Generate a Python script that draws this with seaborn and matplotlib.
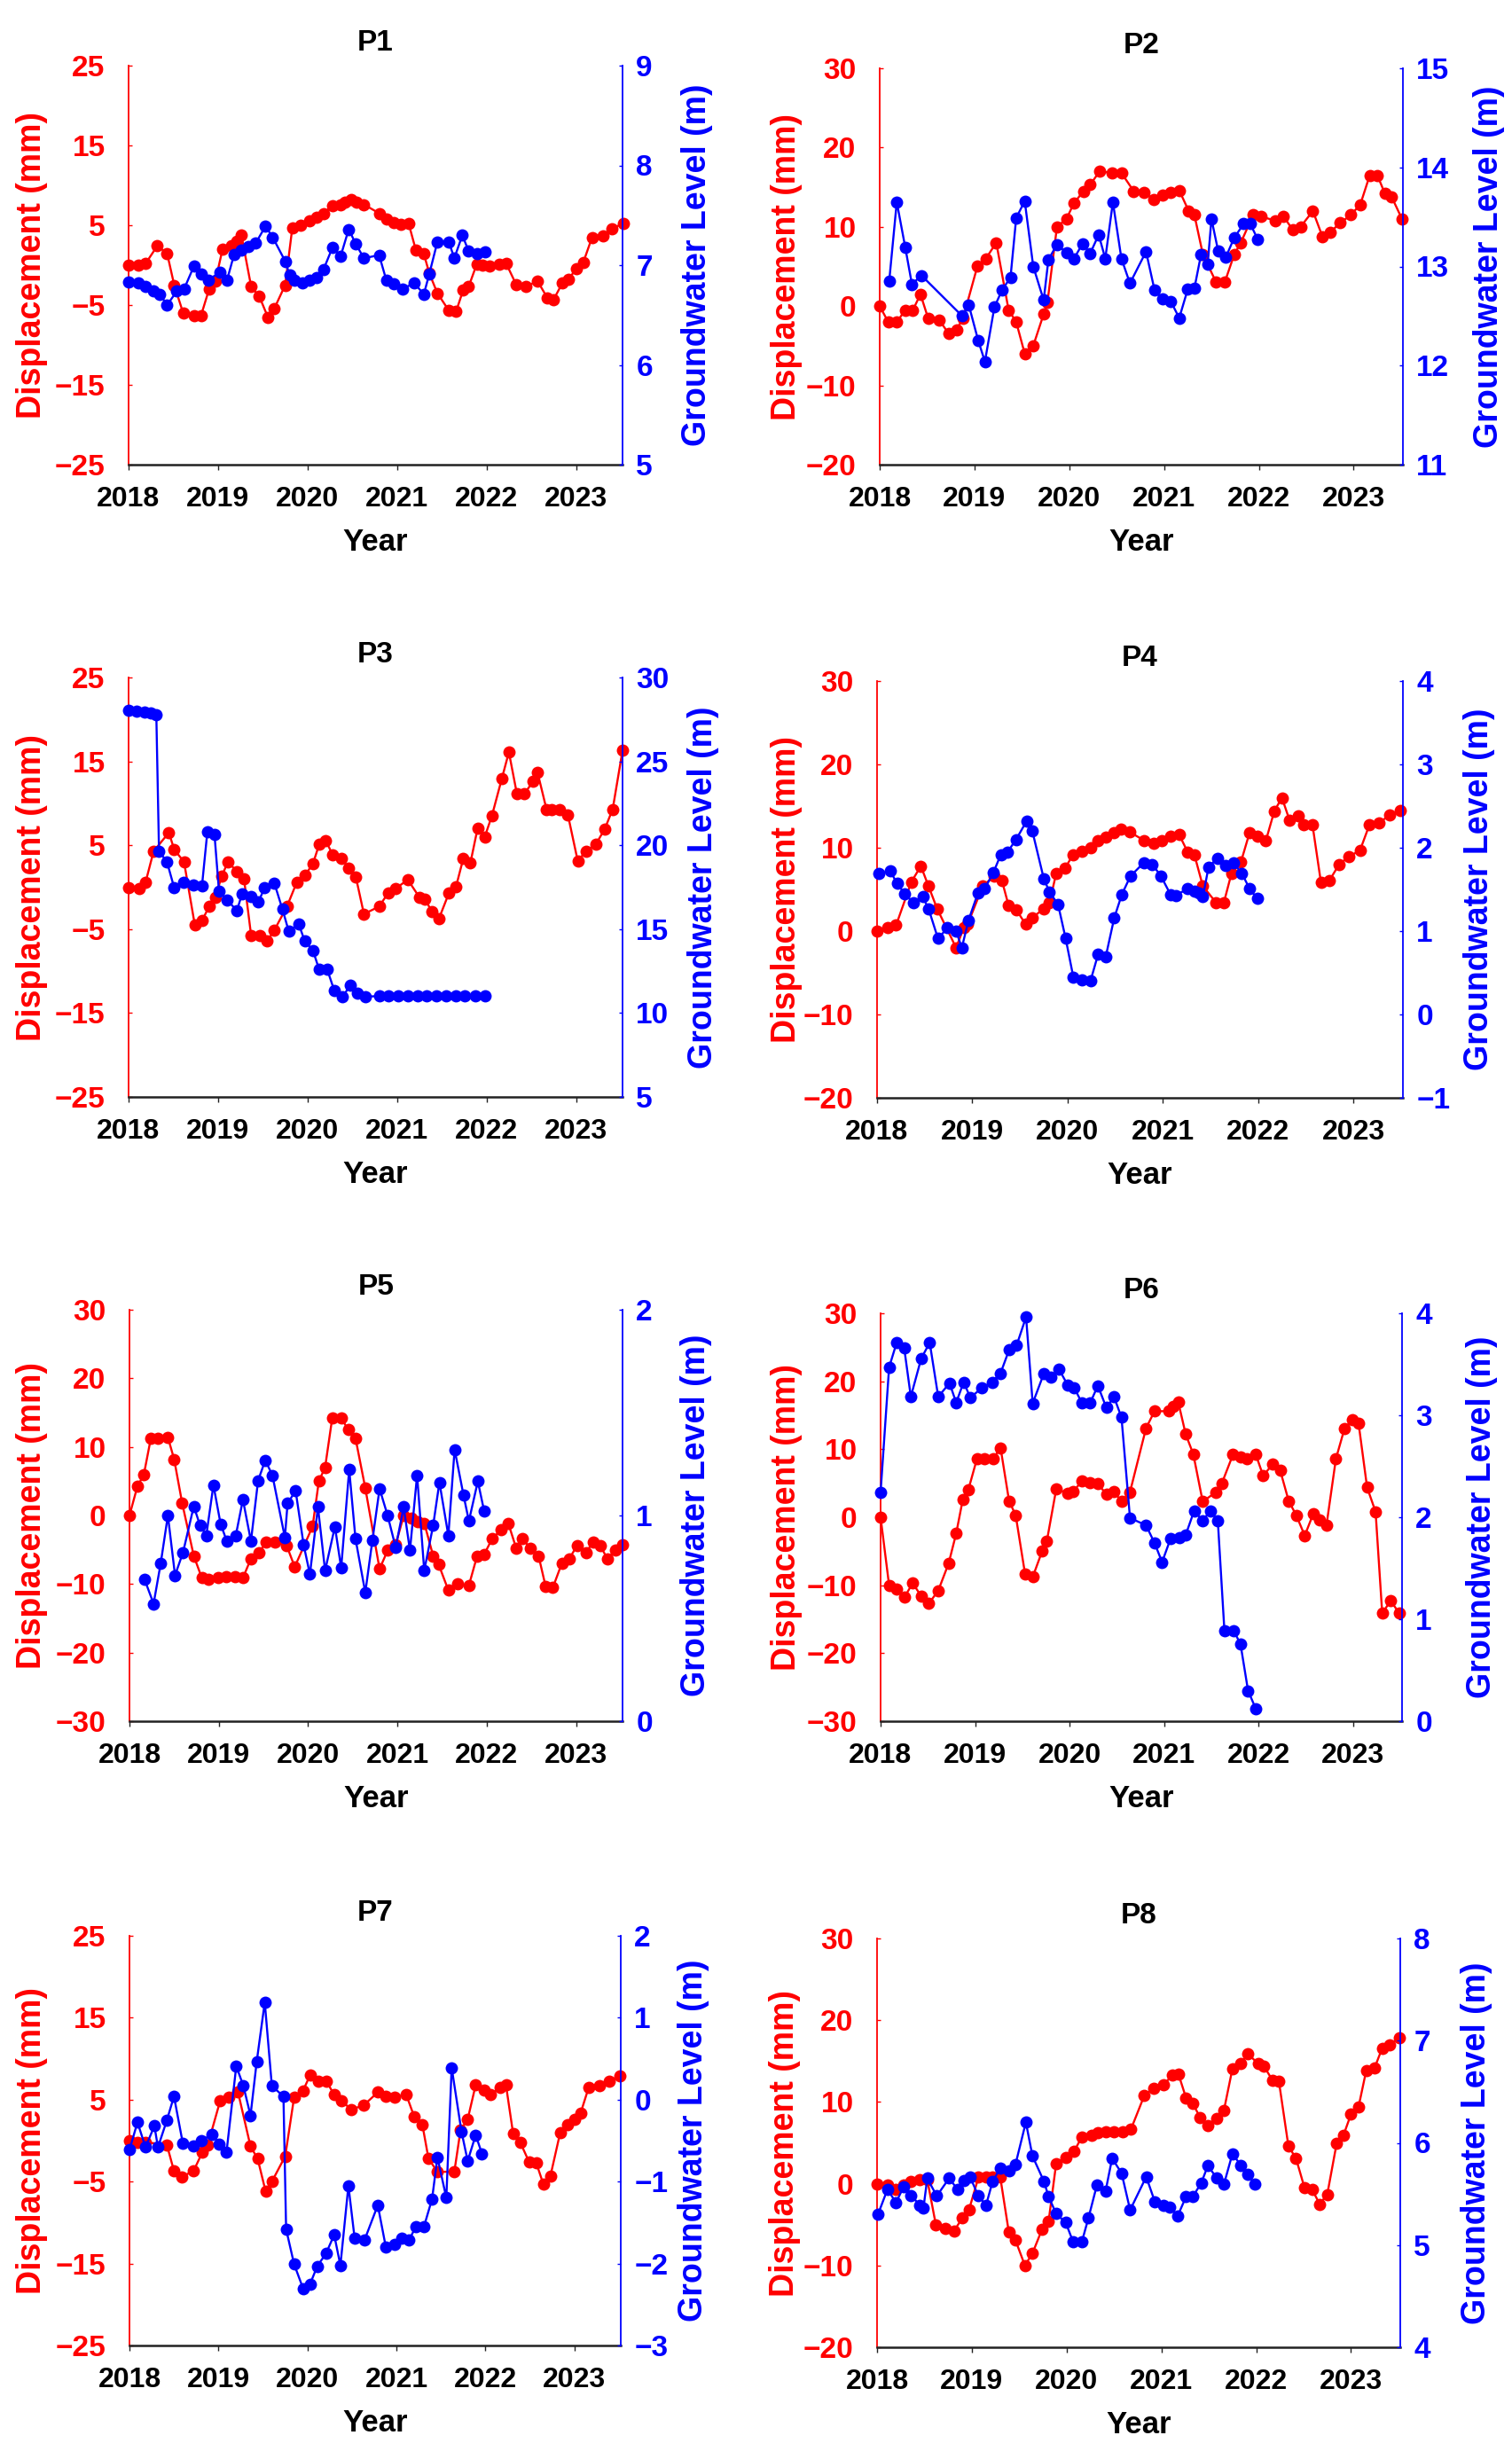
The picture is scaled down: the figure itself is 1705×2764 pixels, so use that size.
import numpy as np
import pandas as pd
import matplotlib
matplotlib.use("Agg")
import matplotlib.pyplot as plt
import seaborn as sns

sns.set_theme(style="white")
plt.rcParams['font.family'] = ['Liberation Sans', 'DejaVu Sans']
plt.rcParams['font.weight'] = 'bold'
plt.rcParams['axes.unicode_minus'] = True

RED = "#ff0000"
BLUE = "#0000ff"

titles = ["P1", "P2", "P3", "P4", "P5", "P6", "P7", "P8"]
year_ticks = [2018, 2019, 2020, 2021, 2022, 2023]
START_YEAR = 2018

# ---------------- P1 ----------------
p1_disp_dt = [0.00, 0.11, 0.19, 0.32, 0.43, 0.51, 0.61, 0.73, 0.81, 0.90,
              0.97, 1.05, 1.15, 1.21, 1.26, 1.37, 1.46, 1.56, 1.63, 1.75,
              1.83, 1.92, 2.02, 2.10, 2.18, 2.28, 2.37, 2.42, 2.49, 2.55,
              2.63, 2.80, 2.88, 2.96, 3.04, 3.13, 3.21, 3.30, 3.36, 3.45,
              3.58, 3.66, 3.74, 3.80, 3.89, 3.95, 4.03, 4.14, 4.22, 4.33,
              4.44, 4.57, 4.68, 4.75, 4.85, 4.92, 5.00, 5.08, 5.18, 5.30,
              5.40, 5.53]
p1_disp_mm = [0, 0, 0.2, 2.4, 1.5, -2.5, -6, -6.3, -6.3, -3,
              -2, 2, 2.4, 3, 3.8, -2.7, -3.9, -6.6, -5.4, -2.5,
              4.7, 5, 5.6, 6, 6.5, 7.5, 7.6, 7.9, 8.2, 7.9,
              7.6, 6.5, 5.8, 5.3, 5.1, 5.2, 1.9, 1.4, -1, -3.5,
              -5.7, -5.8, -3.1, -2.7, 0.1, 0, -0.1, 0.1, 0.2, -2.4,
              -2.7, -2, -4.1, -4.3, -2.2, -1.8, -0.4, 0.3, 3.5, 3.7,
              4.6, 5.2]
p1_gw_dt = [0.00, 0.11, 0.19, 0.28, 0.35, 0.43, 0.54, 0.62, 0.73, 0.81,
            0.89, 1.02, 1.10, 1.18, 1.26, 1.34, 1.42, 1.53, 1.61, 1.75,
            1.80, 1.85, 1.94, 2.02, 2.10, 2.18, 2.28, 2.37, 2.46, 2.54,
            2.63, 2.80, 2.88, 2.96, 3.06, 3.19, 3.30, 3.36, 3.45, 3.58,
            3.64, 3.73, 3.80, 3.89, 3.98]
p1_gw_m = [6.83, 6.82, 6.79, 6.74, 6.71, 6.60, 6.74, 6.76, 6.99, 6.91,
           6.85, 6.93, 6.85, 7.11, 7.15, 7.19, 7.22, 7.39, 7.28, 7.04,
           6.90, 6.85, 6.82, 6.85, 6.88, 6.96, 7.18, 7.09, 7.36, 7.21,
           7.07, 7.10, 6.85, 6.81, 6.76, 6.82, 6.71, 6.91, 7.23, 7.23,
           7.07, 7.30, 7.14, 7.12, 7.13]

# ---------------- P2 ----------------
p2_disp_dt = [0.00, 0.09, 0.18, 0.27, 0.35, 0.43, 0.51, 0.63, 0.73, 0.81,
              0.88, 1.03, 1.12, 1.23, 1.36, 1.44, 1.53, 1.62, 1.73, 1.77,
              1.87, 1.97, 2.05, 2.15, 2.22, 2.32, 2.45, 2.55, 2.68, 2.79,
              2.89, 2.98, 3.07, 3.16, 3.26, 3.32, 3.41, 3.55, 3.64, 3.74,
              3.81, 3.94, 4.02, 4.17, 4.26, 4.36, 4.44, 4.57, 4.67, 4.75,
              4.86, 4.97, 5.07, 5.17, 5.25, 5.33, 5.40, 5.51]
p2_disp_mm = [0, -2, -2, -0.5, -0.5, 1.5, -1.5, -1.8, -3.5, -3,
              -1.5, 5, 6, 8, -0.5, -2, -6, -5, -1, 0.5,
              10, 11, 13, 14.5, 15.3, 17, 16.8, 16.8, 14.5, 14.3,
              13.5, 14, 14.3, 14.6, 12, 11.5, 6.5, 3, 3, 6.5,
              8, 11.5, 11.3, 10.8, 11.3, 9.6, 10, 12, 8.8, 9.3,
              10.5, 11.5, 12.8, 16.5, 16.5, 14.2, 13.8, 11]
p2_gw_dt = [0.10, 0.18, 0.27, 0.34, 0.44, 0.87, 0.94, 1.04, 1.11, 1.21,
            1.29, 1.38, 1.44, 1.53, 1.62, 1.73, 1.78, 1.87, 1.97, 2.05,
            2.14, 2.22, 2.31, 2.38, 2.46, 2.55, 2.64, 2.81, 2.90, 2.98,
            3.07, 3.16, 3.25, 3.32, 3.39, 3.46, 3.50, 3.57, 3.65, 3.74,
            3.84, 3.91, 3.99]
p2_gw_m = [12.85, 13.65, 13.19, 12.82, 12.91, 12.50, 12.61, 12.25, 12.04, 12.59,
           12.76, 12.89, 13.49, 13.66, 13.00, 12.66, 13.07, 13.22, 13.14, 13.08,
           13.23, 13.13, 13.32, 13.08, 13.65, 13.08, 12.83, 13.15, 12.76, 12.67,
           12.65, 12.48, 12.77, 12.78, 13.12, 13.02, 13.48, 13.16, 13.09, 13.29,
           13.43, 13.43, 13.27]

# ---------------- P3 ----------------
p3_disp_dt = [0.00, 0.12, 0.19, 0.28, 0.45, 0.51, 0.62, 0.74, 0.82, 0.90,
              0.97, 1.04, 1.11, 1.21, 1.29, 1.37, 1.47, 1.55, 1.63, 1.77,
              1.88, 1.97, 2.06, 2.13, 2.20, 2.28, 2.38, 2.46, 2.54, 2.63,
              2.80, 2.90, 2.98, 3.12, 3.25, 3.31, 3.39, 3.47, 3.58, 3.66,
              3.74, 3.82, 3.90, 3.98, 4.06, 4.17, 4.25, 4.34, 4.42, 4.52,
              4.57, 4.67, 4.73, 4.82, 4.91, 5.02, 5.11, 5.22, 5.32, 5.41,
              5.52]
p3_disp_mm = [0, -0.2, 0.6, 4.3, 6.5, 4.5, 3.0, -4.5, -4.0, -2.3,
              -1.2, 1.3, 3.0, 1.9, 1.0, -5.8, -5.8, -6.4, -5.1, -2.3,
              0.6, 1.4, 2.8, 5.1, 5.6, 3.9, 3.4, 2.3, 1.2, -3.2,
              -2.3, -0.7, -0.2, 0.9, -1.2, -1.4, -2.9, -3.7, -0.7, 0.1,
              3.4, 2.9, 7.0, 6.0, 8.5, 12.9, 16.1, 11.1, 11.1, 12.6,
              13.7, 9.3, 9.3, 9.2, 8.6, 3.1, 4.3, 5.1, 6.9, 9.3,
              16.3]
p3_gw_dt = [0.00, 0.09, 0.18, 0.25, 0.31, 0.34, 0.43, 0.51, 0.61, 0.72,
            0.82, 0.88, 0.96, 1.01, 1.10, 1.21, 1.27, 1.37, 1.45, 1.52,
            1.63, 1.72, 1.79, 1.90, 1.97, 2.06, 2.13, 2.22, 2.30, 2.39,
            2.48, 2.56, 2.65, 2.80, 2.90, 3.01, 3.12, 3.23, 3.33, 3.44,
            3.55, 3.66, 3.76, 3.87, 3.98]
p3_gw_m = [28.03, 27.98, 27.94, 27.87, 27.76, 19.65, 18.99, 17.46, 17.79, 17.63,
           17.57, 20.79, 20.64, 17.28, 16.75, 16.10, 17.13, 16.97, 16.62, 17.46,
           17.72, 16.18, 14.87, 15.31, 14.28, 13.73, 12.59, 12.59, 11.32, 10.99,
           11.64, 11.21, 10.99, 11.0, 11.0, 11.0, 11.0, 11.0, 11.0, 11.0,
           11.0, 11.0, 11.0, 11.0, 11.0]

# ---------------- P4 ----------------
p4_disp_dt = [0.00, 0.11, 0.20, 0.36, 0.46, 0.54, 0.63, 0.83, 0.91, 0.95,
              1.11, 1.23, 1.31, 1.38, 1.46, 1.56, 1.63, 1.75, 1.81, 1.88,
              1.97, 2.06, 2.15, 2.24, 2.32, 2.40, 2.49, 2.56, 2.65, 2.80,
              2.90, 2.99, 3.08, 3.17, 3.26, 3.33, 3.42, 3.56, 3.64, 3.72,
              3.82, 3.91, 3.99, 4.08, 4.17, 4.25, 4.33, 4.42, 4.48, 4.57,
              4.66, 4.75, 4.85, 4.95, 5.07, 5.17, 5.27, 5.38, 5.49]
p4_disp_mm = [0, 0.4, 0.7, 5.9, 7.8, 5.4, 2.7, -2.0, 0.4, 0.8,
              5.4, 6.6, 6.1, 3.1, 2.6, 0.8, 1.6, 2.7, 3.4, 6.9,
              7.5, 9.2, 9.6, 10.0, 10.8, 11.3, 11.8, 12.2, 11.9, 10.9,
              10.5, 10.8, 11.4, 11.6, 9.5, 9.2, 5.4, 3.4, 3.4, 6.9,
              8.3, 11.8, 11.4, 10.8, 14.4, 16.0, 13.3, 13.8, 12.8, 12.8,
              5.8, 6.1, 8.0, 8.9, 9.7, 12.8, 13.0, 13.9, 14.5]
p4_gw_dt = [0.02, 0.14, 0.21, 0.29, 0.38, 0.48, 0.54, 0.64, 0.74, 0.83,
            0.89, 0.96, 1.06, 1.13, 1.22, 1.30, 1.37, 1.46, 1.57, 1.63,
            1.75, 1.81, 1.90, 1.98, 2.06, 2.15, 2.24, 2.32, 2.40, 2.49,
            2.57, 2.66, 2.80, 2.89, 2.98, 3.08, 3.14, 3.26, 3.33, 3.38,
            3.42, 3.48, 3.57, 3.66, 3.74, 3.83, 3.91, 3.99]
p4_gw_m = [1.69, 1.72, 1.57, 1.45, 1.34, 1.41, 1.27, 0.91, 1.04, 1.00,
           0.80, 1.13, 1.46, 1.51, 1.70, 1.92, 1.95, 2.10, 2.32, 2.20,
           1.63, 1.47, 1.32, 0.91, 0.45, 0.42, 0.40, 0.72, 0.69, 1.16,
           1.44, 1.66, 1.82, 1.80, 1.66, 1.44, 1.43, 1.51, 1.48, 1.46,
           1.41, 1.77, 1.87, 1.79, 1.82, 1.69, 1.51, 1.39]

# ---------------- P5 ----------------
p5_disp_dt = [0.00, 0.09, 0.16, 0.24, 0.32, 0.43, 0.50, 0.59, 0.72, 0.81,
              0.88, 0.99, 1.08, 1.18, 1.27, 1.36, 1.45, 1.53, 1.63, 1.76,
              1.85, 2.05, 2.12, 2.19, 2.27, 2.37, 2.45, 2.53, 2.64, 2.80,
              2.89, 2.98, 3.07, 3.16, 3.23, 3.30, 3.40, 3.46, 3.57, 3.67,
              3.80, 3.89, 3.97, 4.06, 4.16, 4.24, 4.33, 4.40, 4.49, 4.58,
              4.66, 4.74, 4.84, 4.92, 5.01, 5.11, 5.19, 5.27, 5.35, 5.44,
              5.52]
p5_disp_mm = [0, 4.3, 5.9, 11.3, 11.3, 11.4, 8.2, 1.8, -5.9, -9.1,
              -9.3, -9.1, -8.9, -8.9, -9.1, -6.3, -5.4, -3.9, -3.9, -4.4,
              -7.5, -1.6, 5.0, 7.0, 14.2, 14.2, 12.5, 11.3, 4.0, -7.8,
              -5.1, -4.3, 0, -0.4, -0.9, -1.1, -5.9, -7.1, -10.9, -10.0,
              -10.2, -6.0, -5.7, -3.4, -2.1, -1.1, -4.8, -3.4, -4.8, -5.9,
              -10.4, -10.5, -7.0, -6.4, -4.4, -5.4, -3.9, -4.4, -6.3, -5.1,
              -4.3]
p5_gw_dt = [0.17, 0.27, 0.35, 0.43, 0.51, 0.60, 0.72, 0.79, 0.86, 0.94,
            1.02, 1.09, 1.19, 1.27, 1.36, 1.44, 1.52, 1.60, 1.74, 1.77,
            1.86, 1.95, 2.02, 2.11, 2.19, 2.30, 2.37, 2.46, 2.53, 2.64,
            2.72, 2.80, 2.89, 2.98, 3.07, 3.14, 3.22, 3.30, 3.40, 3.47,
            3.57, 3.64, 3.74, 3.80, 3.90, 3.97]
p5_gw_m = [0.688, 0.571, 0.768, 1.000, 0.709, 0.821, 1.045, 0.952, 0.902, 1.148,
           0.959, 0.875, 0.902, 1.077, 0.875, 1.170, 1.268, 1.196, 0.893, 1.059,
           1.120, 0.857, 0.714, 1.041, 0.732, 0.946, 0.745, 1.223, 0.888, 0.625,
           0.880, 1.130, 1.000, 0.845, 1.041, 0.830, 1.196, 0.732, 0.952, 1.161,
           0.902, 1.321, 1.098, 0.973, 1.166, 1.023]

# ---------------- P6 ----------------
p6_disp_dt = [0.00, 0.09, 0.17, 0.25, 0.34, 0.43, 0.51, 0.61, 0.72, 0.80,
              0.87, 0.93, 1.02, 1.10, 1.19, 1.27, 1.36, 1.43, 1.53, 1.61,
              1.71, 1.76, 1.86, 1.98, 2.04, 2.13, 2.22, 2.30, 2.39, 2.47,
              2.55, 2.64, 2.81, 2.90, 3.05, 3.10, 3.15, 3.23, 3.31, 3.41,
              3.55, 3.61, 3.73, 3.81, 3.88, 3.97, 4.05, 4.15, 4.23, 4.32,
              4.40, 4.49, 4.58, 4.65, 4.72, 4.82, 4.91, 4.99, 5.06, 5.15,
              5.24, 5.31, 5.40, 5.49]
p6_disp_mm = [0, -10.0, -10.5, -11.8, -9.7, -11.6, -12.7, -10.8, -6.8, -2.4,
              2.6, 4.1, 8.6, 8.6, 8.6, 10.2, 2.4, 0.3, -8.4, -8.8,
              -5.0, -3.5, 4.2, 3.5, 3.8, 5.3, 5.1, 4.9, 3.4, 3.8,
              2.3, 3.7, 13.1, 15.6, 15.6, 16.3, 17.0, 12.2, 9.3, 2.3,
              3.7, 4.9, 9.2, 8.9, 8.6, 9.3, 6.1, 7.8, 6.9, 2.4,
              0.3, -2.7, 0.5, -0.4, -1.2, 8.6, 13.0, 14.3, 13.8, 4.4,
              0.8, -14.1, -12.3, -14.1]
p6_gw_dt = [0.00, 0.09, 0.17, 0.25, 0.32, 0.43, 0.52, 0.61, 0.73, 0.80,
            0.88, 0.95, 1.07, 1.18, 1.27, 1.36, 1.44, 1.54, 1.61, 1.73,
            1.80, 1.89, 1.98, 2.05, 2.13, 2.22, 2.30, 2.39, 2.47, 2.55,
            2.64, 2.81, 2.90, 2.98, 3.07, 3.16, 3.23, 3.32, 3.41, 3.49,
            3.57, 3.64, 3.74, 3.81, 3.89, 3.97]
p6_gw_m = [2.245, 3.470, 3.712, 3.658, 3.182, 3.557, 3.712, 3.182, 3.315, 3.124,
           3.326, 3.171, 3.268, 3.326, 3.413, 3.640, 3.686, 3.964, 3.117, 3.413,
           3.377, 3.449, 3.297, 3.268, 3.124, 3.124, 3.290, 3.074, 3.182, 2.980,
           1.993, 1.921, 1.748, 1.560, 1.791, 1.802, 1.827, 2.065, 1.964, 2.065,
           1.964, 0.883, 0.883, 0.757, 0.299, 0.126]

# ---------------- P7 ----------------
p7_disp_dt = [0.00, 0.09, 0.18, 0.42, 0.50, 0.59, 0.72, 0.82, 0.88, 1.02,
              1.12, 1.22, 1.36, 1.44, 1.53, 1.60, 1.75, 1.85, 1.95, 2.03,
              2.12, 2.21, 2.30, 2.38, 2.49, 2.63, 2.79, 2.88, 2.98, 3.11,
              3.20, 3.29, 3.36, 3.46, 3.65, 3.72, 3.80, 3.89, 3.99, 4.06,
              4.16, 4.23, 4.31, 4.39, 4.49, 4.57, 4.65, 4.73, 4.84, 4.92,
              5.00, 5.07, 5.16, 5.28, 5.39, 5.51]
p7_disp_mm = [0, -0.2, -0.2, -0.5, -3.7, -4.4, -3.7, -1.4, -0.5, 4.9,
              5.3, 5.9, -0.7, -2.2, -6.2, -5.0, -1.9, 5.3, 6.1, 8.0,
              7.3, 7.3, 5.6, 4.9, 3.8, 4.3, 5.9, 5.4, 5.3, 5.6,
              2.9, 2.0, -2.2, -3.8, -3.8, 1.3, 2.6, 6.8, 6.2, 5.6,
              6.5, 6.8, 0.9, -0.2, -2.6, -2.7, -5.3, -4.3, 1.0, 1.9,
              2.6, 3.4, 6.5, 6.7, 7.3, 7.9]
p7_gw_dt = [0.00, 0.09, 0.18, 0.28, 0.32, 0.42, 0.50, 0.60, 0.72, 0.81,
            0.93, 1.01, 1.09, 1.20, 1.28, 1.36, 1.43, 1.52, 1.60, 1.73,
            1.76, 1.85, 1.95, 2.03, 2.11, 2.21, 2.30, 2.37, 2.46, 2.53,
            2.64, 2.79, 2.88, 2.98, 3.06, 3.14, 3.22, 3.31, 3.40, 3.46,
            3.56, 3.62, 3.73, 3.80, 3.89, 3.96]
p7_gw_m = [-0.613, -0.275, -0.581, -0.320, -0.581, -0.252, 0.041, -0.536, -0.568, -0.500,
           -0.419, -0.545, -0.644, 0.410, 0.167, -0.194, 0.468, 1.189, 0.167, 0.041,
           -1.581, -2.009, -2.302, -2.248, -2.032, -1.874, -1.649, -2.023, -1.050, -1.694,
           -1.716, -1.288, -1.797, -1.770, -1.694, -1.716, -1.545, -1.545, -1.212, -0.703,
           -1.198, 0.392, -0.387, -0.748, -0.432, -0.658]

# ---------------- P8 ----------------
p8_disp_dt = [0.00, 0.11, 0.20, 0.28, 0.36, 0.45, 0.53, 0.62, 0.72, 0.81,
              0.90, 0.97, 1.07, 1.15, 1.22, 1.30, 1.39, 1.46, 1.56, 1.64,
              1.74, 1.81, 1.89, 1.99, 2.08, 2.16, 2.26, 2.33, 2.41, 2.50,
              2.59, 2.68, 2.82, 2.92, 3.02, 3.12, 3.18, 3.26, 3.33, 3.41,
              3.49, 3.58, 3.66, 3.75, 3.84, 3.91, 4.02, 4.08, 4.17, 4.24,
              4.34, 4.42, 4.51, 4.59, 4.67, 4.75, 4.85, 4.92, 5.00, 5.08,
              5.16, 5.25, 5.33, 5.41, 5.51]
p8_disp_mm = [0, -0.2, -0.7, -0.2, 0.3, 0.5, 0.5, -5.0, -5.5, -5.8,
              -4.2, -3.2, 0.8, 0.8, 0.8, 0.8, -5.9, -6.9, -10.0, -8.5,
              -5.6, -4.6, 2.5, 3.2, 4.0, 5.7, 5.9, 6.3, 6.4, 6.4,
              6.4, 6.7, 10.8, 11.7, 12.1, 13.3, 13.4, 10.5, 9.8, 8.1,
              7.1, 8.0, 9.0, 14.1, 14.7, 15.9, 14.7, 14.4, 12.7, 12.5,
              4.6, 3.1, -0.5, -0.7, -2.5, -1.3, 5.0, 5.9, 8.5, 9.4,
              13.8, 14.2, 16.6, 17.0, 17.9]
p8_gw_dt = [0.01, 0.11, 0.20, 0.28, 0.36, 0.45, 0.49, 0.53, 0.63, 0.76,
            0.85, 0.92, 0.98, 1.07, 1.15, 1.22, 1.30, 1.39, 1.46, 1.57,
            1.64, 1.76, 1.81, 1.89, 1.99, 2.07, 2.16, 2.23, 2.32, 2.41,
            2.48, 2.58, 2.67, 2.84, 2.93, 3.02, 3.09, 3.17, 3.26, 3.33,
            3.42, 3.49, 3.58, 3.66, 3.75, 3.84, 3.91, 3.99]
p8_gw_m = [5.300, 5.545, 5.415, 5.570, 5.487, 5.390, 5.365, 5.653, 5.480, 5.653,
           5.545, 5.632, 5.668, 5.480, 5.390, 5.625, 5.751, 5.726, 5.787, 6.202,
           5.870, 5.625, 5.473, 5.307, 5.220, 5.029, 5.029, 5.264, 5.588, 5.523,
           5.848, 5.704, 5.343, 5.668, 5.426, 5.390, 5.372, 5.282, 5.473, 5.473,
           5.606, 5.776, 5.661, 5.596, 5.895, 5.776, 5.690, 5.596]

disp_dt = [p1_disp_dt, p2_disp_dt, p3_disp_dt, p4_disp_dt,
           p5_disp_dt, p6_disp_dt, p7_disp_dt, p8_disp_dt]
disp_mm = [p1_disp_mm, p2_disp_mm, p3_disp_mm, p4_disp_mm,
           p5_disp_mm, p6_disp_mm, p7_disp_mm, p8_disp_mm]
gw_dt = [p1_gw_dt, p2_gw_dt, p3_gw_dt, p4_gw_dt,
         p5_gw_dt, p6_gw_dt, p7_gw_dt, p8_gw_dt]
gw_m = [p1_gw_m, p2_gw_m, p3_gw_m, p4_gw_m,
        p5_gw_m, p6_gw_m, p7_gw_m, p8_gw_m]

disp_ticks = [[-25, -15, -5, 5, 15, 25], [-20, -10, 0, 10, 20, 30],
              [-25, -15, -5, 5, 15, 25], [-20, -10, 0, 10, 20, 30],
              [-30, -20, -10, 0, 10, 20, 30], [-30, -20, -10, 0, 10, 20, 30],
              [-25, -15, -5, 5, 15, 25], [-20, -10, 0, 10, 20, 30]]
gw_ticks = [[5, 6, 7, 8, 9], [11, 12, 13, 14, 15],
            [5, 10, 15, 20, 25, 30], [-1, 0, 1, 2, 3, 4],
            [0, 1, 2], [0, 1, 2, 3, 4],
            [-3, -2, -1, 0, 1, 2], [4, 5, 6, 7, 8]]

# ---------------- layout (pixels in a 1706 x 2764 canvas) ----------------
W, H = 1706, 2764
boxes = [(145, 702, 74, 524), (992, 1582, 77, 524),
         (145, 702, 764, 1237), (989, 1582, 768, 1238),
         (146, 702, 1477, 1941), (993, 1581, 1481, 1941),
         (146, 700, 2183, 2645), (989, 1579, 2186, 2647)]
left_lab_x = [-0.163, -0.147, -0.163, -0.142, -0.165, -0.150, -0.166, -0.146]
right_lab_x = [1.118, 1.134, 1.131, 1.115, 1.117, 1.122, 1.116, 1.115]

fig = plt.figure(figsize=(W / 100, H / 100), dpi=100)
fig.patch.set_facecolor("white")

XTICK_FS = 23
YTICK_FS = 24
LAB_FS = 27

for i in range(8):
    x0, x1, y0, y1 = boxes[i]
    ax = fig.add_axes([x0 / W, 1 - y1 / H, (x1 - x0) / W, (y1 - y0) / H])
    ax2 = ax.twinx()

    dfd = pd.DataFrame({"year": START_YEAR + np.array(disp_dt[i]),
                        "disp": disp_mm[i]})
    dfg = pd.DataFrame({"year": START_YEAR + np.array(gw_dt[i]),
                        "gw": gw_m[i]})

    sns.lineplot(data=dfd, x="year", y="disp", ax=ax, color=RED,
                 marker="o", markersize=10, markeredgecolor=RED,
                 markeredgewidth=0, linewidth=1.7, estimator=None,
                 sort=False, legend=False, clip_on=False)
    sns.lineplot(data=dfg, x="year", y="gw", ax=ax2, color=BLUE,
                 marker="o", markersize=10, markeredgecolor=BLUE,
                 markeredgewidth=0, linewidth=1.7, estimator=None,
                 sort=False, legend=False, clip_on=False)

    ax.set_xlim(2018, 2023.52)
    dt = disp_ticks[i]
    ax.set_ylim(dt[0], dt[-1])
    ax.set_yticks(dt)
    gt = gw_ticks[i]
    ax2.set_ylim(gt[0], gt[-1])
    ax2.set_yticks(gt)
    ax.set_xticks(year_ticks)
    ax.set_xticklabels([str(y) for y in year_ticks])

    # spines
    for sp in ["top", "right"]:
        ax.spines[sp].set_visible(False)
    ax.spines["left"].set_color(RED)
    ax.spines["left"].set_linewidth(1.3)
    ax.spines["bottom"].set_color("#222222")
    ax.spines["bottom"].set_linewidth(1.8)
    for sp in ["top", "left", "bottom"]:
        ax2.spines[sp].set_visible(False)
    ax2.spines["right"].set_color(BLUE)
    ax2.spines["right"].set_linewidth(1.3)

    ax.tick_params(axis="x", direction="out", length=4.5, width=1.0,
                   colors="#222222", labelcolor="black",
                   labelsize=XTICK_FS, pad=13, bottom=True)
    ax.tick_params(axis="y", direction="in", length=3, width=1.0,
                   colors=RED, labelcolor=RED, labelsize=YTICK_FS, pad=19,
                   left=True)
    ax2.tick_params(axis="y", direction="in", length=3, width=1.0,
                    colors=BLUE, labelcolor=BLUE, labelsize=YTICK_FS, pad=11,
                    right=True)
    for lab in ax.get_xticklabels() + ax.get_yticklabels() + ax2.get_yticklabels():
        lab.set_fontweight("bold")

    ax.set_xlabel("Year", fontsize=25, fontweight="bold", color="black",
                  labelpad=12)
    ax.set_ylabel("Displacement (mm)", fontsize=LAB_FS, fontweight="bold",
                  color=RED)
    ax2.set_ylabel("Groundwater Level (m)", fontsize=LAB_FS,
                   fontweight="bold", color=BLUE)
    ax.yaxis.set_label_coords(left_lab_x[i], 0.5)
    ax2.yaxis.set_label_coords(right_lab_x[i], 0.5)
    ax.set_title(titles[i], fontsize=24, fontweight="bold", color="black",
                 pad=12)
    ax.grid(False)
    ax2.grid(False)
    ax.set_facecolor("none")
    ax2.set_facecolor("none")

fig.savefig("out.png", dpi=100, facecolor="white")
